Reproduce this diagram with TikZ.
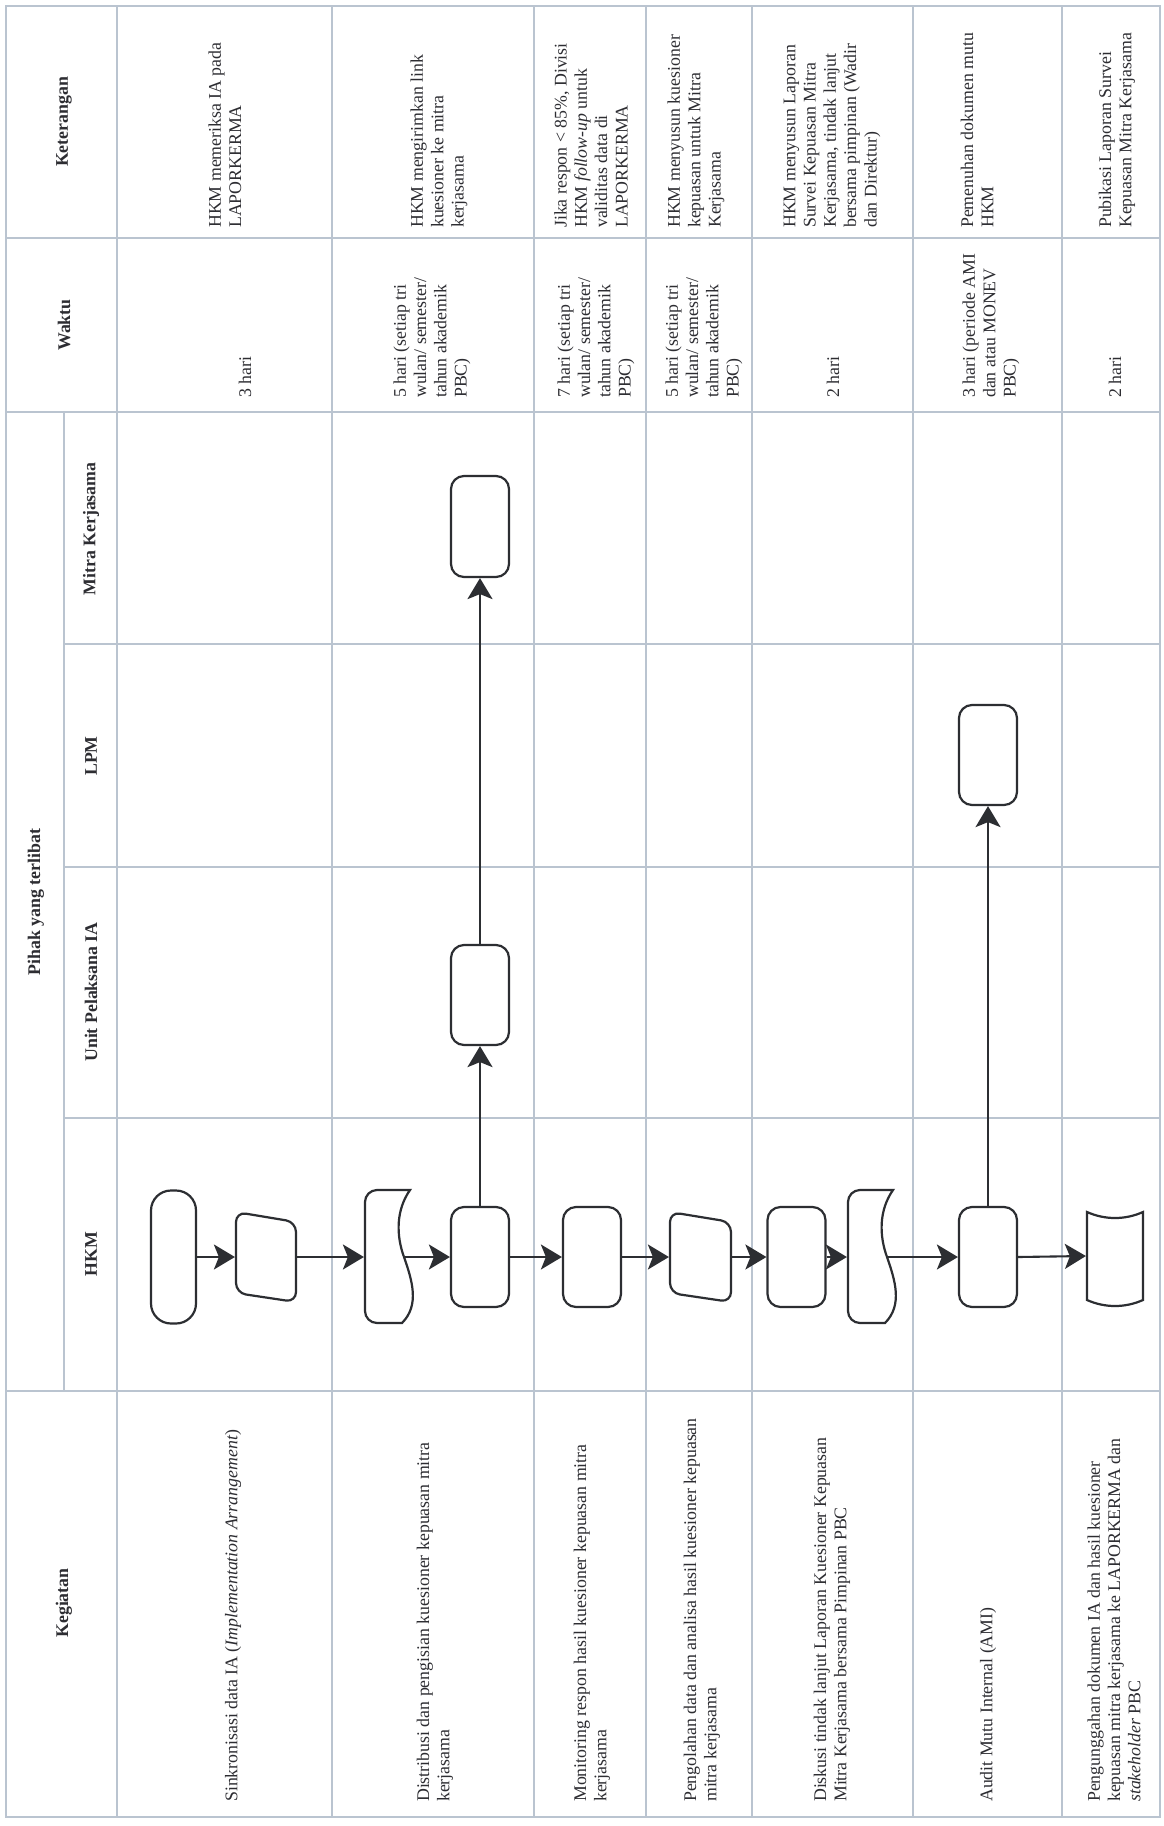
\documentclass[tikz,border=0pt]{standalone}
\usepackage{fontspec}
\setmainfont{Liberation Serif}
\usetikzlibrary{arrows.meta}
\definecolor{gridc}{RGB}{186,196,208}
\definecolor{ink}{RGB}{44,46,50}
\definecolor{txtc}{RGB}{45,45,50}
\begin{document}
\begin{tikzpicture}[x=1pt,y=-1pt,
  grid/.style={draw=gridc,line width=1.3pt},
  shp/.style={draw=ink,line width=2.2pt,fill=white},
  rbox/.style={draw=ink,line width=2.2pt,fill=white,rounded corners=13pt,
    minimum width=58pt,minimum height=100pt,inner sep=0pt},
  term/.style={draw=ink,line width=2.2pt,fill=white,rounded corners=20pt,
    minimum width=45pt,minimum height=133pt,inner sep=0pt},
  ghost/.style={draw=none,inner sep=0pt,outer sep=1.1pt},
  arr/.style={draw=ink,line width=2.1pt,-{Stealth[length=21pt,width=25pt,inset=5pt]}},
  txt/.style={text=txtc,font=\fontsize{17.8}{20.3}\selectfont,rotate=90,
    anchor=west,align=left,inner sep=0pt},
  hdr/.style={text=txtc,font=\bfseries\fontsize{17.8}{20.3}\selectfont,rotate=90,
    inner sep=0pt}]
\useasboundingbox (0,0) rectangle (1164,1826);
\fill[white] (0,0) rectangle (1164,1826);

% ---------- grid ----------
\draw[grid] (6,6) rectangle (1160,1817);
\foreach \x in {117,332,534,646,752,913,1062}
  \draw[grid] (\x,6) -- (\x,1817);
\foreach \y in {238,412,1391}
  \draw[grid] (6,\y) -- (1160,\y);
\foreach \y in {644,867,1118}
  \draw[grid] (64,\y) -- (1160,\y);
\draw[grid] (64,412) -- (64,1391);

% ---------- headers ----------
\node[hdr] (hket) at (64,122) {Keterangan};
\node[hdr] (hwak) at (64,325) {Waktu};
\node[hdr] (hkeg) at (64,1603) {Kegiatan};
\node[hdr] (hpih) at (36,902) {Pihak yang terlibat};
\node[hdr] (hmit) at (91,529) {Mitra Kerjasama};
\node[hdr] (hlpm) at (91,756) {LPM};
\node[hdr] (hunit) at (91,992) {Unit Pelaksana IA};
\node[hdr] (hhkm) at (91,1254) {HKM};

% ---------- Kegiatan ----------
\node[txt] (k1) at (233,1802) {Sinkronisasi data IA (\textit{Implementation Arrangement})};
\node[txt] (k2) at (435,1802) {Distribusi dan pengisian kuesioner kepuasan mitra\\kerjasama};
\node[txt] (k3) at (592,1802) {Monitoring respon hasil kuesioner kepuasan mitra\\kerjasama};
\node[txt] (k4) at (702,1802) {Pengolahan data dan analisa hasil kuesioner kepuasan\\mitra kerjasama};
\node[txt] (k5) at (832,1802) {Diskusi tindak lanjut Laporan Kuesioner Kepuasan\\Mitra Kerjasama bersama Pimpinan PBC};
\node[txt] (k6) at (988,1802) {Audit Mutu Internal (AMI)};
\node[txt] (k7) at (1114,1802) {Pengunggahan dokumen IA dan hasil kuesioner\\kepuasan mitra kerjasama ke LAPORKERMA dan\\\textit{stakeholder} PBC};

% ---------- Waktu ----------
\node[txt] (w1) at (245,398) {3 hari};
\node[txt] (w2) at (432,398) {5 hari (setiap tri\\wulan/ semester/\\tahun akademik\\PBC)};
\node[txt] (w3) at (596,398) {7 hari (setiap tri\\wulan/ semester/\\tahun akademik\\PBC)};
\node[txt] (w4) at (704,398) {5 hari (setiap tri\\wulan/ semester/\\tahun akademik\\PBC)};
\node[txt] (w5) at (833,398) {2 hari};
\node[txt] (w6) at (991,398) {3 hari (periode AMI\\dan atau MONEV\\PBC)};
\node[txt] (w7) at (1115,398) {2 hari};

% ---------- Keterangan ----------
\node[txt] (n1) at (225,228) {HKM memeriksa IA pada\\LAPORKERMA};
\node[txt] (n2) at (439,228) {HKM mengirimkan link\\kuesioner ke mitra\\kerjasama};
\node[txt] (n3) at (591,228) {Jika respon < 85\%, Divisi\\HKM \textit{follow-up} untuk\\validitas data di\\LAPORKERMA};
\node[txt] (n4) at (696,228) {HKM menyusun kuesioner\\kepuasan untuk Mitra\\Kerjasama};
\node[txt] (n5) at (832,228) {HKM menyusun Laporan\\Survei Kepuasan Mitra\\Kerjasama, tindak lanjut\\bersama pimpinan (Wadir\\dan Direktur)};
\node[txt] (n6) at (977,228) {Pemenuhan dokumen mutu\\HKM};
\node[txt] (n7) at (1117,228) {Pubikasi Laporan Survei\\Kepuasan Mitra Kerjasama};

% ---------- flow shapes ----------
% HKM lane
\node[term] (s1) at (173.5,1257) {};
\draw[shp,rounded corners=10pt] (236,1250) -- (236,1212) -- (296,1222) -- (296,1302) -- (236,1293) -- cycle;
\node[ghost,minimum width=60pt,minimum height=90pt] (s2) at (266,1257) {};
\draw[shp] (390,1323) [rounded corners=12pt] -- (365,1323) -- (365,1190) -- (390,1190) [sharp corners] -- (410,1190)
  .. controls (396,1210) and (396,1235) .. (404,1257)
  .. controls (412,1280) and (420,1305) .. (402,1323) -- cycle;
\node[ghost,minimum width=39pt,minimum height=133pt] (s3) at (384.5,1257) {};
\node[rbox] (s4) at (480,1257) {};
\node[rbox] (s5) at (592,1257) {};
\draw[shp,rounded corners=10pt] (670,1250) -- (670,1212) -- (731,1222) -- (731,1302) -- (670,1293) -- cycle;
\node[ghost,minimum width=61pt,minimum height=90pt] (s6) at (700.5,1257) {};
\node[rbox] (s7) at (796.5,1257) {};
\draw[shp] (873,1323) [rounded corners=12pt] -- (848,1323) -- (848,1190) -- (873,1190) [sharp corners] -- (893,1190)
  .. controls (879,1210) and (879,1235) .. (887,1257)
  .. controls (895,1280) and (903,1305) .. (885,1323) -- cycle;
\node[ghost,minimum width=39pt,minimum height=133pt] (s8) at (867.5,1257) {};
\node[rbox] (s9) at (988,1257) {};
\draw[shp] (1087,1212) .. controls (1105,1220) and (1125,1220) .. (1143,1212)
  -- (1143,1300) .. controls (1125,1308) and (1105,1308) .. (1087,1300) -- cycle;
\node[ghost,minimum width=56pt,minimum height=88pt] (s10) at (1115,1256) {};
% other lanes
\node[rbox] (u1) at (480,995) {};
\node[rbox,minimum height=101pt] (m1) at (480,526.5) {};
\node[rbox] (l1) at (988,755) {};

% ---------- connectors ----------
\draw[arr] (s1.east) -- (s2.west);
\draw[arr] (s2.east) -- (s3.west);
\draw[arr] (s3.east) -- (s4.west);
\draw[arr] (s4.east) -- (s5.west);
\draw[arr] (s5.east) -- (s6.west);
\draw[arr] (s6.east) -- (s7.west);
\draw[arr] (s7.east) -- (s8.west);
\draw[arr] (s8.east) -- (s9.west);
\draw[arr] (s9.east) -- (s10.west);
\draw[arr] (s4.north) -- (u1.south);
\draw[arr] (u1.north) -- (m1.south);
\draw[arr] (s9.north) -- (l1.south);
\end{tikzpicture}
\end{document}
